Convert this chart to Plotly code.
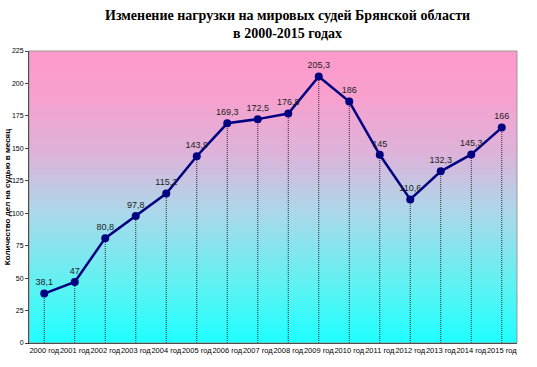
import plotly.graph_objects as go
import numpy as np

years = ["2000 год", "2001 год", "2002 год", "2003 год", "2004 год", "2005 год", "2006 год", "2007 год",
         "2008 год", "2009 год", "2010 год", "2011 год", "2012 год", "2013 год", "2014 год", "2015 год"]
values = [38.1, 47, 80.8, 97.8, 115.2, 143.9, 169.3, 172.5, 176.8, 205.3, 186, 145, 110.6, 132.3, 145.3, 166]
y_ticks = [0, 25, 50, 75, 100, 125, 150, 175, 200, 225]
title_text = "<b>Изменение нагрузки на мировых судей Брянской области<br>в 2000-2015 годах</b>"

xs = list(range(len(years)))
labels = [("%g" % v).replace(".", ",") for v in values]

fig = go.Figure()

# gradient background
gy = np.linspace(0, 225, 120)
fig.add_trace(go.Heatmap(
    x=[-0.5, len(years) - 0.5], y=gy, z=[[v, v] for v in gy],
    colorscale=[[0, "#1EFFFF"], [0.2, "#5EF2F2"], [0.45, "#ACD8EA"], [0.65, "#DDB3DA"], [0.85, "#F8A0CE"], [1, "#FF99CC"]],
    showscale=False, hoverinfo="skip", zsmooth="best"))

# drop lines
for x, v in zip(xs, values):
    fig.add_trace(go.Scatter(x=[x, x], y=[0, v], mode="lines",
                             line=dict(color="#000000", width=0.8, dash="1px,1px"),
                             hoverinfo="skip", showlegend=False))

fig.add_trace(go.Scatter(
    x=xs, y=values, mode="lines+markers+text", text=labels, textposition="top center",
    textfont=dict(family="Arial, Liberation Sans", size=9, color="#222222"),
    line=dict(color="#000080", width=2.5),
    marker=dict(color="#000080", size=8), showlegend=False, cliponaxis=False))

fig.update_layout(
    width=537, height=367,
    margin=dict(l=29, r=20, t=51, b=24),
    paper_bgcolor="white", plot_bgcolor="white",
    xaxis=dict(range=[-0.5, len(years) - 0.5], tickvals=xs, ticktext=years, tickangle=0,
               automargin=False,
               tickfont=dict(family="Arial, Liberation Sans", size=7.5, color="#000000"),
               showgrid=False, zeroline=False, showline=True, linecolor="#000000", linewidth=1,
               ticks="", mirror=False),
    yaxis=dict(range=[0, 225], tickvals=y_ticks, showgrid=False, zeroline=False, automargin=False,
               tickfont=dict(family="Arial, Liberation Sans", size=7, color="#000000"),
               showline=True, linecolor="#000000", linewidth=1, ticks="outside", ticklen=3,
               title=dict(text="<b>Количество дел на судью в месяц</b>",
                          font=dict(family="Arial, Liberation Sans", size=8, color="#000000"), standoff=0)),
)
fig.add_annotation(text=title_text, xref="paper", yref="paper", x=0.529, y=1.155,
                   xanchor="center", yanchor="top", showarrow=False,
                   font=dict(family="Liberation Serif, Times New Roman", size=14, color="#000000"))
fig.add_shape(type="rect", xref="paper", yref="paper", x0=0, y0=0, x1=1, y1=1,
              line=dict(color="#999999", width=1), layer="above")

fig.write_html("out.html", config={"displayModeBar": False},
               post_script="document.body.style.margin='0';")
